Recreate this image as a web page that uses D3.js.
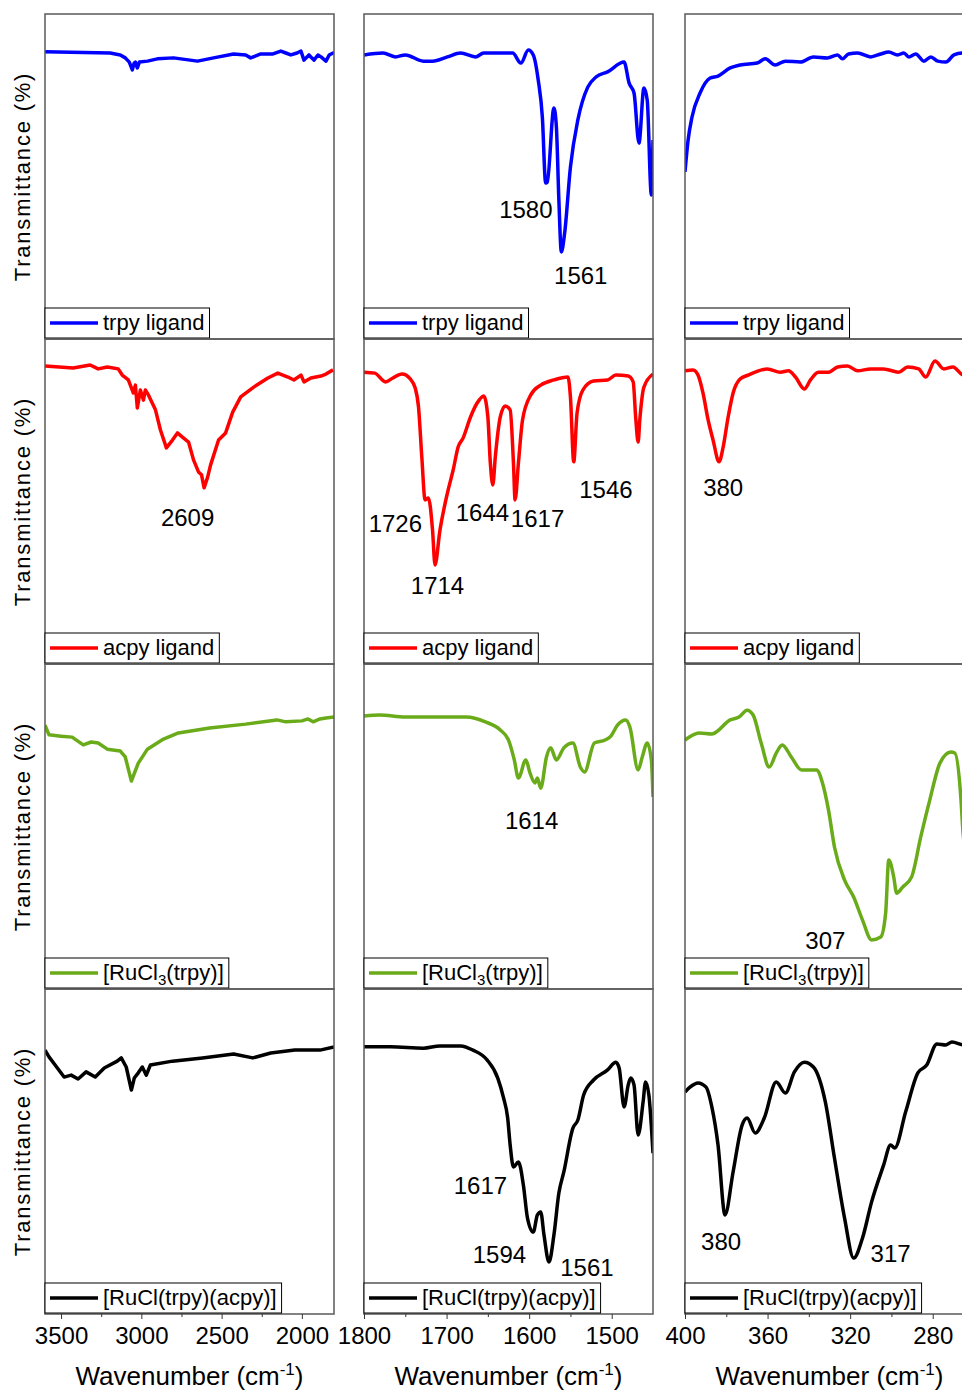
<!DOCTYPE html>
<html><head><meta charset="utf-8">
<script src="https://cdn.jsdelivr.net/npm/d3@7"></script>
<style>body{margin:0;background:#fff} svg{display:block;font-family:"Liberation Sans",Arial,sans-serif}</style>
</head><body><svg id="c" width="962" height="1392"></svg>
<script>
// ---------- data ----------
const sampleNames = ["trpy ligand", "acpy ligand", "[RuCl3(trpy)]", "[RuCl(trpy)(acpy)]"];
const sampleColors = ["#0000FF", "#FF0000", "#6AAB1A", "#000000"];
const columnDomains = [[3600, 1800], [1800, 1450], [400, 260]];
const majorTicks = [[3500, 3000, 2500, 2000], [1800, 1700, 1600, 1500], [400, 360, 320, 280]];
const minorTicks = [[3250, 2750, 2250], [1750, 1650, 1550], [380, 340, 300]];
const yLabel = "Transmittance (%)";

// spectra: [wavenumber, transmittance (relative %)]
const trpyHigh = [[3600,88.4],[3194,88.0],[3131,87.4],[3100,86.5],[3075,85.2],[3056,82.8],[3045,84.9],[3037,85.2],[3025,83.4],[3012,85.2],[2962,85.5],[2900,86.2],[2800,86.5],[2650,85.5],[2550,86.5],[2425,87.7],[2350,87.4],[2319,86.5],[2256,87.7],[2180,87.7],[2131,88.6],[2100,88.0],[2069,87.4],[2030,88.0],[2006,88.6],[1987,85.8],[1956,87.4],[1925,85.8],[1900,87.4],[1881,86.8],[1850,85.5],[1830,87.4],[1806,88.0],[1800,87.7]];
const trpyMid = [[1800,87.4],[1777,88.0],[1762,86.8],[1750,87.4],[1728,85.5],[1717,85.5],[1699,86.8],[1683,88.0],[1665,86.8],[1655,88.0],[1635,88.0],[1620,88.0],[1610,84.9],[1601,88.9],[1595,87.4],[1589,79.7],[1584,68.3],[1580,48.0],[1578,48.3],[1570,71.1],[1567,65.2],[1564,42.8],[1561,26.8],[1557,32.6],[1550,52.9],[1541,67.4],[1529,77.5],[1519,80.6],[1505,82.2],[1485,85.2],[1479,78.8],[1473,75.7],[1467,60.3],[1461,77.2],[1457,73.5],[1452,44.3],[1450,61.2]];
const trpyLow = [[400,51.4],[398.5,61.2],[396.6,68.3],[392.7,75.7],[387.8,80.3],[384,80.9],[378.1,83.4],[373.3,84.3],[365,84.9],[361.1,86.2],[356.3,84.3],[351.4,85.5],[344.1,85.2],[337.8,86.8],[331,86.5],[326.1,87.4],[323.7,86.2],[320.8,87.7],[316.4,88.0],[310.1,86.8],[305.2,87.7],[301.3,88.3],[297,87.4],[294,88.0],[291.6,86.8],[288.2,87.7],[284.3,85.5],[280.9,86.8],[277.5,85.5],[273.6,85.2],[269.7,87.4],[265.4,88.0],[260,88.0]];

const acpyHigh = [[3600,91.7],[3425,91.1],[3319,92.0],[3269,90.8],[3212,91.4],[3144,90.8],[3119,88.9],[3081,87.4],[3050,83.4],[3037,85.8],[3025,78.8],[3006,84.3],[2987,81.2],[2975,84.3],[2956,82.8],[2912,78.2],[2881,72.0],[2844,66.5],[2806,68.9],[2775,71.1],[2744,69.8],[2706,68.3],[2675,62.8],[2644,59.1],[2625,58.2],[2609,54.2],[2587,57.5],[2569,61.2],[2519,68.9],[2475,71.1],[2431,77.5],[2381,82.2],[2300,85.2],[2212,88.0],[2150,89.5],[2087,88.3],[2050,87.4],[2006,88.9],[1987,86.8],[1944,88.0],[1881,88.6],[1850,89.2],[1806,90.5]];
const acpyMid = [[1800,89.8],[1787,89.5],[1774,86.8],[1765,88.0],[1754,89.2],[1744,87.7],[1738,84.9],[1734,79.1],[1730,63.7],[1726,50.5],[1722,51.1],[1717,41.2],[1714,30.5],[1708,41.2],[1699,52.6],[1692,59.7],[1686,66.8],[1680,69.5],[1671,76.0],[1663,80.3],[1655,82.5],[1650,76.0],[1647,61.8],[1644,55.1],[1641,63.7],[1635,76.0],[1629,79.4],[1623,78.2],[1619,61.8],[1617,50.5],[1613,61.8],[1608,75.1],[1598,82.8],[1586,85.8],[1570,87.4],[1553,88.3],[1550,82.2],[1546,62.2],[1542,77.2],[1535,84.3],[1522,87.1],[1505,87.4],[1495,88.9],[1480,88.6],[1474,86.8],[1471,76.0],[1468,68.3],[1466,75.1],[1461,85.2],[1450,89.2]];
const acpyLow = [[400,90.2],[396.1,90.5],[393.7,88.9],[391.3,83.4],[388.8,75.1],[386.4,68.9],[383.5,62.2],[381.5,66.8],[379.1,76.0],[376.7,83.4],[373.3,87.7],[369.4,88.9],[366,89.8],[360.1,90.8],[353.8,89.8],[349.9,90.2],[346.5,88.3],[342.2,84.6],[339.2,87.4],[335.4,89.8],[330.5,89.8],[326.1,91.4],[321.3,91.7],[316.4,90.2],[310.1,90.8],[303.8,90.8],[296.5,89.8],[292.1,91.4],[286.8,90.8],[283.4,88.3],[278.9,93.2],[274.6,90.8],[270.2,91.4],[265.4,88.9],[260,88.3]];

const ruTrpyHigh = [[3600,81.2],[3575,78.2],[3500,77.8],[3431,77.5],[3362,75.1],[3312,76.0],[3269,75.7],[3212,73.8],[3131,73.2],[3100,71.4],[3075,66.5],[3062,64.0],[3019,69.5],[2962,73.8],[2862,76.9],[2769,78.8],[2575,80.3],[2350,81.5],[2156,82.8],[2100,82.2],[2000,82.5],[1962,83.1],[1930,82.2],[1887,83.1],[1850,83.4],[1800,83.7]];
const ruTrpyMid = [[1800,84.0],[1781,84.3],[1750,83.7],[1705,83.7],[1676,83.7],[1653,82.2],[1635,79.7],[1625,76.6],[1618,70.5],[1613,64.9],[1604,70.5],[1599,66.5],[1593,63.4],[1590,64.9],[1586,61.8],[1579,71.4],[1574,74.2],[1567,70.5],[1558,74.2],[1547,75.7],[1538,68.3],[1533,66.8],[1521,75.7],[1508,76.6],[1501,77.8],[1493,81.2],[1483,82.8],[1478,80.6],[1468,67.4],[1463,71.4],[1457,75.7],[1452,70.5],[1450,59.1]];
const ruTrpyLow = [[400,76.6],[393.2,78.8],[386.9,78.5],[378.1,82.8],[373.8,83.7],[369.9,85.8],[367,84.3],[363.1,75.7],[359.2,68.3],[355.8,72.6],[352.9,75.1],[348.5,71.4],[343.6,67.4],[336.3,67.4],[333.4,63.4],[330.5,55.1],[327.6,43.7],[322.7,33.5],[318.3,28.3],[314,21.2],[309.6,15.1],[305.2,16.0],[302.8,23.4],[301.3,39.7],[298.9,34.5],[297.5,29.5],[294.5,31.4],[290.2,34.5],[285.8,46.8],[281.4,58.2],[276.5,69.5],[271.2,72.9],[269.3,72.6],[266.3,58.2],[265.4,48.9],[263.4,39.7],[260,33.5]];

const ruAcpyHigh = [[3600,81.2],[3575,79.1],[3537,76.6],[3481,72.9],[3437,73.5],[3394,72.3],[3344,74.5],[3287,72.9],[3231,75.7],[3150,77.8],[3125,78.8],[3094,76.0],[3062,68.9],[3044,72.6],[3019,74.2],[2994,76.0],[2969,73.5],[2944,76.6],[2806,77.8],[2619,78.8],[2425,80.0],[2306,78.8],[2194,80.3],[2044,81.2],[1887,81.2],[1800,82.2]];
const ruAcpyMid = [[1800,82.2],[1768,82.2],[1728,81.8],[1708,82.5],[1683,82.5],[1668,81.2],[1651,78.2],[1638,72.6],[1631,66.5],[1626,60.3],[1623,52.0],[1619,45.2],[1613,46.8],[1607,39.7],[1602,29.5],[1595,25.2],[1590,30.5],[1586,31.4],[1582,24.3],[1576,16.0],[1570,24.3],[1564,37.2],[1558,43.7],[1547,57.2],[1541,59.7],[1534,67.4],[1522,72.0],[1505,75.1],[1495,77.5],[1491,75.7],[1485,63.7],[1480,70.5],[1477,72.6],[1473,70.5],[1468,55.1],[1462,65.2],[1459,71.4],[1455,67.4],[1450,49.5]];
const ruAcpyLow = [[400,68.3],[397.6,69.8],[393.7,71.1],[389.8,69.8],[386.9,63.4],[384,52.0],[380.6,30.5],[376.7,43.7],[372.3,58.2],[369.9,60.3],[366,55.7],[361.6,60.3],[355.8,71.4],[351.4,68.0],[347,74.5],[342.2,77.5],[337.8,76.0],[332,65.2],[327.6,48.0],[322.7,29.5],[318.3,17.2],[314,23.4],[309.6,34.5],[303.8,45.8],[300.4,52.0],[298.4,51.1],[293.1,62.2],[287.2,74.2],[282.9,76.6],[278,83.1],[273.6,82.8],[270.7,83.7],[265.4,82.8],[260,82.5]];

// peak annotations: [text, wavenumber at label centre, transmittance at label centre]
const trpyMidPeaks = [["1580",1604,40],["1561",1537.5,19.7]];
const acpyHighPeaks = [["2609",2712,45.2]];
const acpyMidPeaks = [["1726",1762,43.4],["1714",1711,24.3],["1644",1656.6,46.8],["1617",1589.8,44.9],["1546",1507,53.8]];
const acpyLowPeaks = [["380",381.5,54.2]];
const ruTrpyMidPeaks = [["1614",1597,52]];
const ruTrpyLowPeaks = [["307",332,15.1]];
const ruAcpyMidPeaks = [["1617",1659,39.7],["1594",1636,18.2],["1561",1530,14.2]];
const ruAcpyLowPeaks = [["380",382.5,22.2],["317",300.4,18.8]];

const spectra = [
  [trpyHigh, trpyMid, trpyLow],
  [acpyHigh, acpyMid, acpyLow],
  [ruTrpyHigh, ruTrpyMid, ruTrpyLow],
  [ruAcpyHigh, ruAcpyMid, ruAcpyLow]
];
const peaks = [
  [[], trpyMidPeaks, []],
  [acpyHighPeaks, acpyMidPeaks, acpyLowPeaks],
  [[], ruTrpyMidPeaks, ruTrpyLowPeaks],
  [[], ruAcpyMidPeaks, ruAcpyLowPeaks]
];

// ---------- layout ----------
const FONT = "'Liberation Sans', Arial, sans-serif";
const colLeft = [45, 364, 685];
const panelW = 289;
const rowTop = [14, 339, 664, 989];
const panelH = 325;
const svg = d3.select("#c");

function legendText(sel, name) {
  const m = name.match(/^(.*Cl)(3)(.*)$/);
  if (m) {
    sel.append("tspan").text(m[1]);
    sel.append("tspan").attr("font-size", 15).attr("dy", 5).text(m[2]);
    sel.append("tspan").attr("dy", -5).text(m[3]);
  } else sel.text(name);
}

rowTop.forEach((top, r) => {
  svg.append("text")
    .attr("transform", `translate(30,${top + panelH / 2}) rotate(-90)`)
    .attr("text-anchor", "middle")
    .attr("font-size", 22).attr("letter-spacing", 1.8)
    .attr("fill", "#000")
    .text(yLabel);

  colLeft.forEach((left, c) => {
    const x = d3.scaleLinear().domain(columnDomains[c]).range([left, left + panelW]);
    const y = d3.scaleLinear().domain([0, 100]).range([top + panelH, top]);
    const g = svg.append("g");
    const clipId = `clip-${r}-${c}`;
    g.append("clipPath").attr("id", clipId)
      .append("rect").attr("x", left).attr("y", top).attr("width", panelW).attr("height", panelH);

    const line = d3.line()
      .x(d => x(d[0])).y(d => y(d[1]))
      .curve(c === 0 ? d3.curveLinear : d3.curveMonotoneX);
    g.append("path")
      .datum(spectra[r][c])
      .attr("clip-path", `url(#${clipId})`)
      .attr("d", line)
      .attr("fill", "none")
      .attr("stroke", sampleColors[r])
      .attr("stroke-width", 3.5)
      .attr("stroke-linejoin", "round");

    g.selectAll("text.pk").data(peaks[r][c]).enter().append("text")
      .attr("class", "pk")
      .attr("x", d => x(d[1])).attr("y", d => y(d[2]))
      .attr("dy", "0.36em")
      .attr("text-anchor", "middle")
      .attr("font-size", 24).attr("fill", "#000")
      .text(d => d[0]);

    g.append("rect").attr("x", left).attr("y", top).attr("width", panelW).attr("height", panelH)
      .attr("fill", "none").attr("stroke", "#5a5a5a").attr("stroke-width", 1.5);

    const lg = g.append("g");
    const box = lg.append("rect")
      .attr("x", left).attr("y", top + panelH - 31).attr("height", 30)
      .attr("fill", "#fff").attr("stroke", "#000").attr("stroke-width", 1);
    lg.append("line")
      .attr("x1", left + 5).attr("x2", left + 53)
      .attr("y1", top + panelH - 16).attr("y2", top + panelH - 16)
      .attr("stroke", sampleColors[r]).attr("stroke-width", 3.5);
    const lt = lg.append("text")
      .attr("x", left + 58).attr("y", top + panelH - 9)
      .attr("font-size", 22).attr("fill", "#000");
    legendText(lt, sampleNames[r]);
    const tw = lt.node().getComputedTextLength();
    box.attr("width", 58 + tw + 5);

    if (r === rowTop.length - 1) {
      const ax = g.append("g").attr("transform", `translate(0,${top + panelH})`)
        .call(d3.axisBottom(x).tickValues(majorTicks[c]).tickFormat(d3.format("d"))
          .tickSize(5).tickSizeOuter(0).tickPadding(8));
      ax.select(".domain").remove();
      ax.selectAll("text").attr("font-size", 24).attr("font-family", FONT).attr("fill", "#000");
      ax.selectAll(".tick line").attr("stroke", "#333");
      const mx = g.append("g").attr("transform", `translate(0,${top + panelH})`)
        .call(d3.axisBottom(x).tickValues(minorTicks[c]).tickFormat("").tickSize(3).tickSizeOuter(0));
      mx.select(".domain").remove();
      mx.selectAll(".tick line").attr("stroke", "#333");

      const t = g.append("text")
        .attr("x", left + panelW / 2).attr("y", 1385)
        .attr("text-anchor", "middle").attr("font-size", 26).attr("fill", "#000");
      t.append("tspan").text("Wavenumber (cm");
      t.append("tspan").attr("font-size", 17).attr("dy", -10).text("-1");
      t.append("tspan").attr("dy", 10).text(")");
    }
  });
});
</script>
</body></html>
